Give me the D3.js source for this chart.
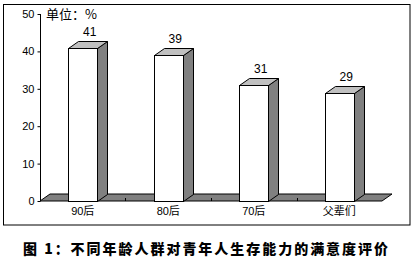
<!DOCTYPE html>
<html>
<head>
<meta charset="utf-8">
<script src="https://cdn.jsdelivr.net/npm/d3@7"></script>
<style>
  html, body { margin: 0; padding: 0; background: #fff; }
  svg { display: block; }
</style>
</head>
<body>
<svg id="chart" width="413" height="265"></svg>
<script>
const categories = ["90后", "80后", "70后", "父辈们"];
const values = [41, 39, 31, 29];
const yTicks = [0, 10, 20, 30, 40, 50];
const unitLabel = "单位：%";
const title = "图 1：不同年龄人群对青年人生存能力的满意度评价";

const svg = d3.select("#chart");
const W = 413, H = 265;
const DX = 10, DY = 7; // 3D depth offsets

// outer frame
svg.append("rect").attr("x", 3.5).attr("y", 4.5).attr("width", 406.5).attr("height", 220.5)
  .attr("fill", "none").attr("stroke", "#000").attr("stroke-width", 1);

const x = d3.scaleBand().domain(categories).range([40, 382]).paddingInner(0.661).paddingOuter(0.3305);
const y = d3.scaleLinear().domain([0, 50]).range([201, 14]);

// floor
const y0 = y(0);
svg.append("path")
  .attr("d", `M40,${y0}L382,${y0}L${382 + DX},${y0 - DY}L${40 + DX},${y0 - DY}Z`)
  .attr("fill", "#808080").attr("stroke", "#000").attr("stroke-width", 1).attr("stroke-linejoin", "miter");

// category boundary ticks on floor
const step = x.step();
categories.slice(1).forEach((c, i) => {
  const bx = Math.round(x(c) - x.step() * x.paddingInner() / 2) + 0.5;
  svg.append("line").attr("x1", bx).attr("x2", bx).attr("y1", y0 - 3).attr("y2", y0)
    .attr("stroke", "#000").attr("stroke-width", 1);
});

// y axis
const yAxis = d3.axisLeft(y).tickValues(yTicks).tickSize(3).tickPadding(3).tickFormat(d3.format("d"));
const ga = svg.append("g").attr("transform", "translate(40.5,0)").call(yAxis);
ga.select(".domain").attr("stroke", "#000").attr("d", `M0,${y(50)}V${y0}`);
ga.selectAll(".tick line").attr("stroke", "#000");
ga.selectAll(".tick text").attr("font-family", "Liberation Sans, Arial, sans-serif")
  .attr("font-size", 11).attr("fill", "#000");

// bars
const bars = svg.append("g");
categories.forEach((c, i) => {
  const x0 = Math.round(x(c)) + 0.5;
  const x1 = x0 + Math.round(x.bandwidth());
  const yt = Math.round(y(values[i])) + 0.5;
  const yb = y0 + 0.5;
  // side face
  bars.append("path")
    .attr("d", `M${x1},${yt}L${x1 + DX},${yt - DY}L${x1 + DX},${yb - DY}L${x1},${yb}Z`)
    .attr("fill", "#808080").attr("stroke", "#000").attr("stroke-width", 1);
  // top face
  bars.append("path")
    .attr("d", `M${x0},${yt}L${x0 + DX},${yt - DY}L${x1 + DX},${yt - DY}L${x1},${yt}Z`)
    .attr("fill", "#c0c0c0").attr("stroke", "#000").attr("stroke-width", 1);
  // front face
  bars.append("rect").attr("x", x0).attr("y", yt).attr("width", x1 - x0).attr("height", yb - yt)
    .attr("fill", "#fff").attr("stroke", "#000").attr("stroke-width", 1);
  // value label
  bars.append("text").attr("x", x(c) + x.bandwidth() / 2 + 7).attr("y", yt - DY - 6)
    .attr("text-anchor", "middle").attr("font-family", "Liberation Sans, Arial, sans-serif")
    .attr("font-size", 12).attr("fill", "#000").text(values[i]);
  // category label
  svg.append("text").attr("x", x(c) + x.bandwidth() / 2).attr("y", 215)
    .attr("text-anchor", "middle").attr("font-family", "Liberation Sans, Noto Sans CJK SC, sans-serif")
    .attr("font-size", 11).attr("fill", "#000").text(c);
});

// unit label
svg.append("text").attr("x", 46).attr("y", 19)
  .attr("font-family", "Noto Sans CJK SC, sans-serif").attr("font-size", 13).attr("fill", "#000")
  .text(unitLabel);

// title
svg.append("text").attr("x", 23).attr("y", 254)
  .attr("font-family", "Noto Sans CJK SC, sans-serif").attr("font-weight", 900)
  .attr("font-size", 14).attr("fill", "#000")
  .attr("textLength", 365).attr("lengthAdjust", "spacing")
  .text(title);
</script>
</body>
</html>
